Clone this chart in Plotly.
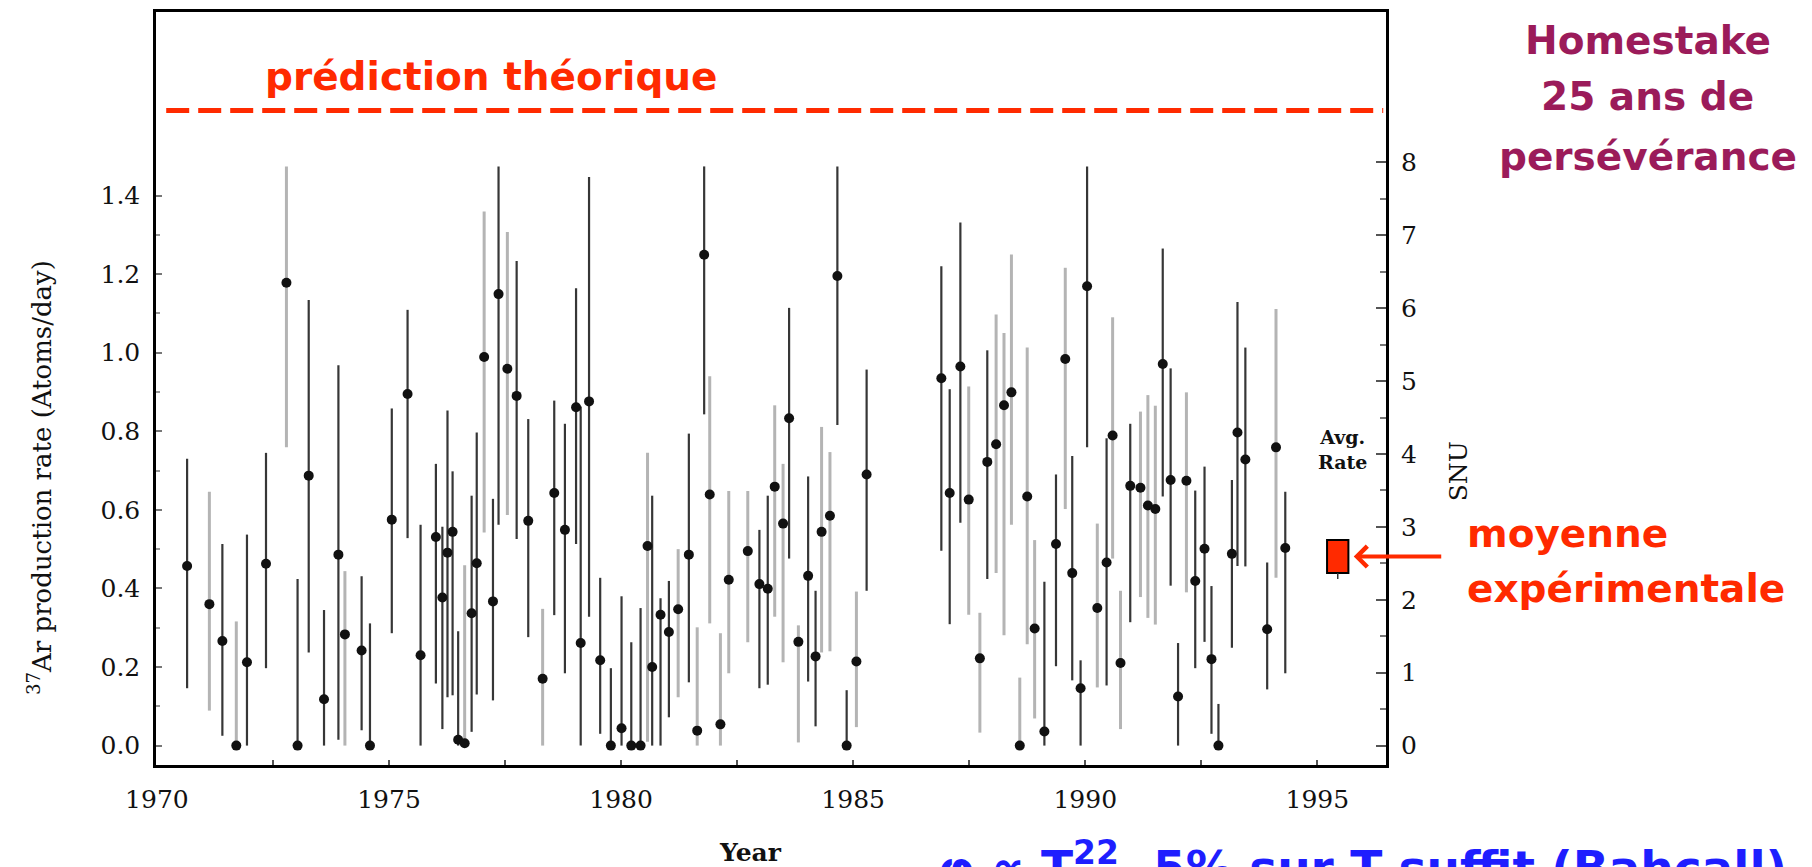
import plotly.graph_objects as go

# Homestake chlorine runs (year, 37Ar rate in atoms/day, error bar ends)
years = [1970.65, 1971.13, 1971.41, 1971.71, 1971.94, 1972.35, 1972.79, 1973.03, 1973.27, 1973.60,
         1973.91, 1974.05, 1974.41, 1974.59, 1975.06, 1975.40, 1975.68, 1976.01, 1976.15, 1976.26,
         1976.37, 1976.49, 1976.63, 1976.78, 1976.89, 1977.05, 1977.24, 1977.36, 1977.55, 1977.75,
         1978.00, 1978.31, 1978.56, 1978.79, 1979.03, 1979.13, 1979.31, 1979.55, 1979.78, 1980.01,
         1980.22, 1980.42, 1980.57, 1980.67, 1980.85, 1981.03, 1981.23, 1981.46, 1981.64, 1981.79,
         1981.91, 1982.14, 1982.32, 1982.73, 1982.98, 1983.16, 1983.31, 1983.49, 1983.62, 1983.82,
         1984.03, 1984.19, 1984.32, 1984.50, 1984.66, 1984.86, 1985.07, 1985.29, 1986.90, 1987.08,
         1987.31, 1987.49, 1987.73, 1987.89, 1988.08, 1988.25, 1988.41, 1988.59, 1988.75, 1988.91,
         1989.12, 1989.37, 1989.57, 1989.72, 1989.90, 1990.04, 1990.26, 1990.46, 1990.59, 1990.76,
         1990.97, 1991.19, 1991.35, 1991.51, 1991.67, 1991.84, 1992.00, 1992.18, 1992.37, 1992.57,
         1992.72, 1992.87, 1993.16, 1993.28, 1993.45, 1993.92, 1994.11, 1994.31]
rate = [0.457, 0.360, 0.266, 0.000, 0.212, 0.463, 1.178, 0.000, 0.687, 0.118,
        0.486, 0.283, 0.242, 0.000, 0.575, 0.895, 0.230, 0.531, 0.377, 0.491,
        0.544, 0.015, 0.006, 0.337, 0.464, 0.989, 0.367, 1.149, 0.959, 0.890,
        0.572, 0.170, 0.643, 0.549, 0.861, 0.261, 0.876, 0.217, 0.000, 0.044,
        0.000, 0.000, 0.508, 0.200, 0.333, 0.289, 0.347, 0.486, 0.038, 1.249,
        0.639, 0.054, 0.422, 0.495, 0.411, 0.399, 0.659, 0.565, 0.833, 0.264,
        0.432, 0.227, 0.544, 0.585, 1.195, 0.000, 0.214, 0.690, 0.935, 0.643,
        0.965, 0.626, 0.222, 0.722, 0.767, 0.866, 0.899, 0.000, 0.634, 0.298,
        0.036, 0.513, 0.984, 0.439, 0.146, 1.169, 0.350, 0.466, 0.789, 0.210,
        0.661, 0.656, 0.611, 0.602, 0.971, 0.676, 0.125, 0.674, 0.419, 0.501,
        0.220, 0.000, 0.488, 0.797, 0.728, 0.296, 0.759, 0.503]
rate_lo = [0.146, 0.089, 0.025, 0.000, 0.000, 0.197, 0.759, 0.000, 0.237, 0.000,
           0.015, 0.000, 0.039, 0.000, 0.286, 0.528, 0.000, 0.158, 0.042, 0.123,
           0.128, 0.000, 0.000, 0.035, 0.130, 0.542, 0.115, 0.562, 0.587, 0.526,
           0.276, 0.000, 0.332, 0.184, 0.513, 0.000, 0.328, 0.030, 0.000, 0.000,
           0.000, 0.000, 0.010, 0.000, 0.000, 0.072, 0.123, 0.161, 0.000, 0.843,
           0.311, 0.000, 0.184, 0.263, 0.146, 0.155, 0.328, 0.212, 0.476, 0.008,
           0.163, 0.049, 0.237, 0.240, 0.816, 0.000, 0.047, 0.394, 0.496, 0.309,
           0.567, 0.333, 0.033, 0.424, 0.439, 0.281, 0.562, 0.000, 0.258, 0.069,
           0.000, 0.202, 0.602, 0.166, 0.000, 0.759, 0.148, 0.153, 0.476, 0.042,
           0.314, 0.378, 0.325, 0.308, 0.634, 0.407, 0.000, 0.390, 0.197, 0.264,
           0.030, 0.000, 0.249, 0.457, 0.456, 0.143, 0.427, 0.184]
rate_hi = [0.730, 0.646, 0.513, 0.316, 0.537, 0.745, 1.474, 0.424, 1.134, 0.345,
           0.968, 0.444, 0.431, 0.311, 0.858, 1.109, 0.562, 0.717, 0.557, 0.853,
           0.698, 0.291, 0.459, 0.636, 0.797, 1.359, 0.628, 1.474, 1.307, 1.233,
           0.831, 0.348, 0.878, 0.819, 1.164, 0.863, 1.447, 0.427, 0.197, 0.380,
           0.263, 0.350, 0.745, 0.636, 0.375, 0.419, 0.500, 0.794, 0.301, 1.474,
           0.940, 0.286, 0.648, 0.648, 0.549, 0.636, 0.866, 0.717, 1.114, 0.306,
           0.685, 0.394, 0.811, 0.747, 1.474, 0.141, 0.392, 0.957, 1.220, 0.907,
           1.331, 0.914, 0.338, 1.006, 1.097, 1.050, 1.250, 0.173, 1.013, 0.523,
           0.417, 0.690, 1.216, 0.737, 0.217, 1.474, 0.565, 0.782, 1.090, 0.394,
           0.819, 0.850, 0.892, 0.865, 1.265, 0.960, 0.261, 0.899, 0.649, 0.710,
           0.406, 0.106, 0.676, 1.129, 1.013, 0.466, 1.111, 0.646]
# runs whose bars look faded in the scanned figure (indices into the lists above)
faded_runs = [1, 3, 6, 11, 22, 25, 28, 31, 42, 46, 48, 50, 51, 52, 53, 56, 57, 59, 62, 63,
              66, 71, 72, 74, 75, 76, 77, 78, 79, 82, 86, 88, 89, 91, 92, 93, 97, 106]

# average rate box and theoretical prediction
avg_year = 1995.44
avg_lo = 0.439
avg_hi = 0.523
avg_whisker_lo = 0.424
prediction_rate = 1.616
prediction_years = [1970.2, 1996.42]

snu_per_rate = 5.39
year_ticks = [1970, 1975, 1980, 1985, 1990, 1995]
rate_ticks = [0.0, 0.2, 0.4, 0.6, 0.8, 1.0, 1.2, 1.4]
snu_ticks = [0, 1, 2, 3, 4, 5, 6, 7, 8]

RED = "#ff2a00"
PURPLE = "#9b1b5a"
BLUE = "#1e1eff"
SERIF = "DejaVu Serif, serif"
HAND = "DejaVu Sans, sans-serif"


def subset(values, keep):
    return [v for i, v in enumerate(values) if (i in faded_runs) == keep]


fig = go.Figure()

for faded, colour, thick in [(True, "#b4b4b4", 3), (False, "#363636", 2.2)]:
    xs = subset(years, faded)
    ys = subset(rate, faded)
    up = [h - r for h, r in zip(subset(rate_hi, faded), ys)]
    down = [r - l for r, l in zip(ys, subset(rate_lo, faded))]
    fig.add_trace(go.Scatter(
        x=xs, y=ys, mode="markers",
        marker=dict(size=2, opacity=0),
        error_y=dict(type="data", symmetric=False, array=up, arrayminus=down,
                     width=0, thickness=thick, color=colour),
        showlegend=False, hoverinfo="skip"))

fig.add_trace(go.Scatter(
    x=years, y=rate, mode="markers",
    marker=dict(size=10, color="#111111"),
    showlegend=False))

# average rate box
fig.add_trace(go.Scatter(
    x=[avg_year, avg_year], y=[avg_whisker_lo, avg_lo], mode="lines",
    line=dict(color="#333333", width=1.5), showlegend=False, hoverinfo="skip"))
fig.add_trace(go.Bar(
    x=[avg_year], y=[avg_hi - avg_lo], base=[avg_lo], width=0.46,
    marker=dict(color=RED, line=dict(color="black", width=2)),
    showlegend=False))

# theoretical prediction
fig.add_trace(go.Scatter(
    x=prediction_years, y=[prediction_rate] * 2, mode="lines",
    line=dict(color=RED, width=5, dash="23px,9px"),
    showlegend=False, hoverinfo="skip"))

# dummy trace so the SNU axis is drawn
fig.add_trace(go.Scatter(x=[years[0]], y=[0], yaxis="y2", mode="none",
                         showlegend=False, hoverinfo="skip"))

# the page body adds 8px, so the figure is 8px smaller and shifted back
fig.update_layout(
    width=1804, height=859,
    margin=dict(l=148, r=426, t=1, b=102),
    paper_bgcolor="white", plot_bgcolor="white",
    font=dict(family=SERIF, color="#111111"),
    xaxis=dict(range=[1969.98, 1996.48], tickvals=year_ticks, ticks="inside", ticklen=5,
               tickwidth=1.5, tickcolor="#555555",
               minor=dict(tickvals=[1972.5, 1977.5, 1982.5, 1987.5, 1992.5], ticks="inside",
                          ticklen=5, tickcolor="#555555"),
               showgrid=False, zeroline=False, showline=True, linecolor="black",
               linewidth=2.5, mirror=True, tickfont=dict(size=25, family=SERIF, color="#111111"),
               ticklabelstandoff=10),
    yaxis=dict(range=[-0.0494, 1.867], tickvals=rate_ticks, tickformat=".1f",
               ticks="inside", ticklen=6, tickwidth=1.5, tickcolor="#777777",
               minor=dict(tickvals=[0.1, 0.3, 0.5, 0.7, 0.9, 1.1, 1.3], ticks="inside",
                          ticklen=4, tickcolor="#999999"),
               showgrid=False, zeroline=False, showline=True, linecolor="black",
               linewidth=2.5, mirror=True, tickfont=dict(size=25, family=SERIF, color="#111111"),
               ticklabelstandoff=8),
    yaxis2=dict(overlaying="y", side="right", anchor="x",
                range=[-0.0494 * snu_per_rate, 1.867 * snu_per_rate],
                tickvals=snu_ticks, ticks="inside", ticklen=10, tickwidth=1.5,
                tickcolor="#555555",
                minor=dict(tickvals=[0.5, 1.5, 2.5, 3.5, 4.5, 5.5, 6.5, 7.5], ticks="inside",
                           ticklen=6, tickcolor="#777777"),
                showgrid=False, zeroline=False, showline=False,
                tickfont=dict(size=25, family=SERIF, color="#111111"), ticklabelstandoff=14),
)

notes = [
    dict(text="prédiction théorique", x=0.2724, y=0.9147, xanchor="center",
         font=dict(family=HAND, size=39, color=RED, weight="bold")),
    dict(text="Homestake", x=1.213, y=0.9622, xanchor="center",
         font=dict(family=HAND, size=39, color=PURPLE, weight="bold")),
    dict(text="25 ans de", x=1.213, y=0.8881, xanchor="center",
         font=dict(family=HAND, size=39, color=PURPLE, weight="bold")),
    dict(text="persévérance", x=1.213, y=0.8085, xanchor="center",
         font=dict(family=HAND, size=39, color=PURPLE, weight="bold")),
    dict(text="moyenne", x=1.0642, y=0.3073, xanchor="left",
         font=dict(family=HAND, size=39, color=RED, weight="bold")),
    dict(text="expérimentale", x=1.0642, y=0.2345, xanchor="left",
         font=dict(family=HAND, size=39, color=RED, weight="bold")),
    dict(text="Avg.<br>Rate", x=0.965, y=0.419, xanchor="center",
         font=dict(family=SERIF, size=19, weight="bold")),
    dict(text="SNU", x=1.0585, y=0.390, xanchor="center", textangle=-90,
         font=dict(family=SERIF, size=25)),
    dict(text="Year", x=0.483, y=-0.1164, xanchor="center",
         font=dict(family=SERIF, size=25, weight="bold")),
    dict(text="<sup>37</sup>Ar production rate (Atoms/day)", x=-0.0943, y=0.381,
         xanchor="center", textangle=-90, font=dict(family=SERIF, size=26)),
]
for n in notes:
    fig.add_annotation(xref="paper", yref="paper", yanchor="middle", showarrow=False, **n)

# footnote, cut by the bottom edge as in the slide
fig.add_annotation(text="φ ∝ T<sup>22</sup>, 5% sur T suffit (Bahcall)", x=0.634, y=-0.088,
                   xref="paper", yref="paper", xanchor="left", yanchor="top", showarrow=False,
                   font=dict(family=HAND, size=47, color=BLUE, weight="bold"))

fig.add_annotation(x=avg_year, y=(avg_lo + avg_hi) / 2, xref="x", yref="y",
                   ax=105, ay=0, showarrow=True, arrowhead=4, arrowsize=1,
                   arrowwidth=4, arrowcolor=RED, standoff=16, text="")

fig.write_html("out.html")
